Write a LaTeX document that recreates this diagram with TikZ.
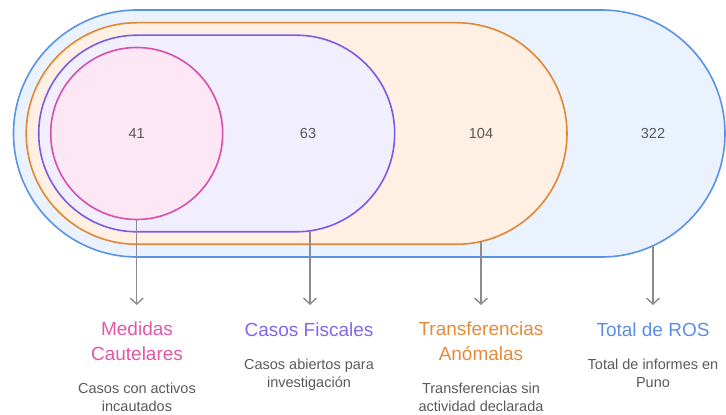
\documentclass[tikz,border=0pt]{standalone}
\usepackage{fontspec}
\setmainfont{Liberation Sans}
\usetikzlibrary{arrows.meta}
\definecolor{pinkS}{HTML}{D64FAE}
\definecolor{pinkF}{HTML}{FDE7F4}
\definecolor{purS}{HTML}{7B5BE3}
\definecolor{purF}{HTML}{F1EFFD}
\definecolor{oraS}{HTML}{DE8734}
\definecolor{oraF}{HTML}{FFF0E3}
\definecolor{bluS}{HTML}{5A93E6}
\definecolor{bluF}{HTML}{EAF2FE}
\definecolor{pinkT}{HTML}{E356A8}
\definecolor{purT}{HTML}{8465EE}
\definecolor{oraT}{HTML}{E58A3A}
\definecolor{bluT}{HTML}{5B8EE8}
\definecolor{txtG}{HTML}{595959}
\definecolor{arrG}{HTML}{8C8C8C}
\begin{document}
\begin{tikzpicture}[x=1pt,y=1pt,
  setline/.style={line width=1.6pt},
  numlabel/.style={anchor=base,text=txtG,font=\fontsize{14.5}{17}\selectfont,inner sep=0pt},
  titlelabel/.style={anchor=base,align=center,font=\fontsize{19}{25}\selectfont,inner sep=0pt},
  desclabel/.style={anchor=base,align=center,text=txtG,font=\fontsize{14.5}{18.5}\selectfont,inner sep=0pt},
  pointer/.style={draw=arrG,line width=1.4pt,-{Straight Barb[length=6pt,width=13pt,line width=1.4pt]}}]
\useasboundingbox (0,0) rectangle (726,415);
% Blue stadium
\draw[setline,draw=bluS,fill=bluF] (137,405) -- (601.5,405) arc[start angle=90,end angle=-90,radius=123.5] -- (137,158) arc[start angle=270,end angle=90,radius=123.5] -- cycle;
% Orange stadium
\draw[setline,draw=oraS,fill=oraF] (137,392.3) -- (456.2,392.3) arc[start angle=90,end angle=-90,radius=110.8] -- (137,170.7) arc[start angle=270,end angle=90,radius=110.8] -- cycle;
% Purple stadium
\draw[setline,draw=purS,fill=purF] (137,379.8) -- (296.4,379.8) arc[start angle=90,end angle=-90,radius=98.3] -- (137,183.2) arc[start angle=270,end angle=90,radius=98.3] -- cycle;
% Pink circle
\draw[setline,draw=pinkS,fill=pinkF] (136.7,281.5) circle[radius=86];
% numbers
\node[numlabel] (n41) at (136.7,276.5) {41};
\node[numlabel] (n63) at (308,276.5) {63};
\node[numlabel] (n104) at (481,276.5) {104};
\node[numlabel] (n322) at (653,276.5) {322};
% connector starts
\coordinate (sPink) at (136.7,195.5);
\coordinate (sPur) at (310,184.2);
\coordinate (sOra) at (481,173.5);
\coordinate (sBlu) at (653,169.3);
% arrow ends
\coordinate (ePink) at (136.7,110);
\coordinate (ePur) at (310,110);
\coordinate (eOra) at (481,110);
\coordinate (eBlu) at (653,110);
\draw[pointer] (sPink) -- (ePink);
\draw[pointer] (sPur) -- (ePur);
\draw[pointer] (sOra) -- (eOra);
\draw[pointer] (sBlu) -- (eBlu);
% titles (base anchor = last line baseline)
\node[titlelabel,text=pinkT] (tPink) at (137,54) {Medidas\\Cautelares};
\node[titlelabel,text=purT] (tPur) at (309,78.5) {Casos Fiscales};
\node[titlelabel,text=oraT] (tOra) at (481,54) {Transferencias\\Anómalas};
\node[titlelabel,text=bluT] (tBlu) at (653,78.5) {Total de ROS};
% descriptions
\node[desclabel] (dPink) at (137,3) {Casos con activos\\incautados};
\node[desclabel] (dPur) at (309,27) {Casos abiertos para\\investigación};
\node[desclabel] (dOra) at (481,3) {Transferencias sin\\actividad declarada};
\node[desclabel] (dBlu) at (653,27) {Total de informes en\\Puno};
\end{tikzpicture}
\end{document}
